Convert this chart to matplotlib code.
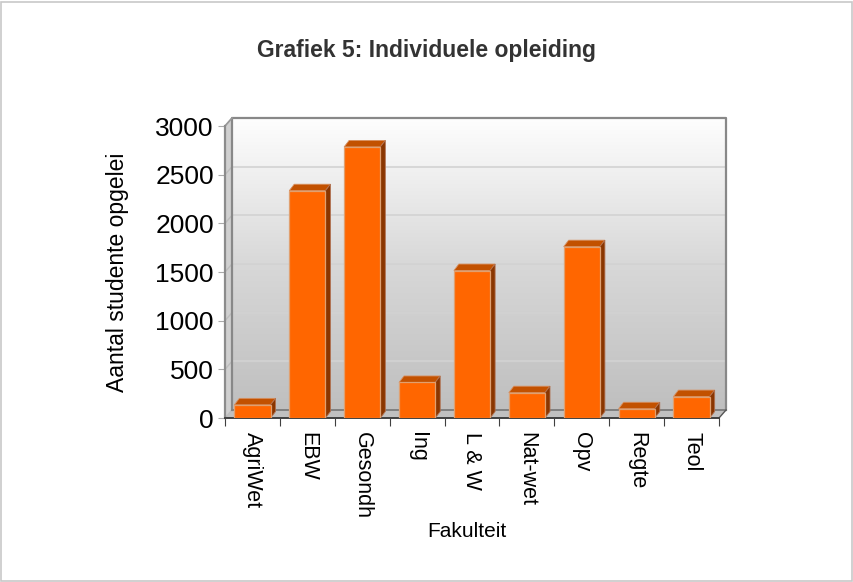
import numpy as np
import matplotlib
matplotlib.use("Agg")
import matplotlib.pyplot as plt
from matplotlib.patches import Polygon, Rectangle
from matplotlib.colors import LinearSegmentedColormap

categories = ["AgriWet", "EBW", "Gesondh", "Ing", "L & W", "Nat-wet", "Opv", "Regte", "Teol"]
values = [135, 2335, 2785, 365, 1515, 260, 1760, 95, 220]
yticks = [0, 500, 1000, 1500, 2000, 2500, 3000]

plt.rcParams['font.family'] = ['Liberation Sans', 'DejaVu Sans']

W, H = 854, 582
fig = plt.figure(figsize=(W / 100, H / 100), dpi=100)
fig.patch.set_facecolor('white')

# outer border
fig.add_artist(Rectangle((1 / W, 1 / H), (W - 3) / W, (H - 3) / H, transform=fig.transFigure,
                         fill=False, edgecolor='#c8c8c8', linewidth=1.2))

L, R, T, B = 225, 719, 126, 418
ax = fig.add_axes([L / W, (H - B) / H, (R - L) / W, (B - T) / H])
n = len(categories)
x0, x1 = -0.5, n - 0.5
ax.set_xlim(x0, x1)
ax.set_ylim(0, 3000)
ax.patch.set_alpha(0)

pxx = (x1 - x0) / (R - L)
pxy = 3000 / (B - T)
wdx, wdy = 7 * pxx, 8 * pxy   # wall depth
bdx, bdy = 5 * pxx, 6.5 * pxy  # bar depth

# back wall gradient
grad = np.linspace(0, 1, 256).reshape(-1, 1)
cmap = LinearSegmentedColormap.from_list('wall', ['#bfbfbf', '#d8d8d8', '#fefefe'])
ax.imshow(grad, aspect='auto', cmap=cmap, origin='lower',
          extent=[x0 + wdx, x1 + wdx, wdy, 3000 + wdy], clip_on=False, zorder=0)
# left wall
ax.add_patch(Polygon([(x0, 0), (x0, 3000), (x0 + wdx, 3000 + wdy), (x0 + wdx, wdy)],
                     closed=True, facecolor='#d0d0d0', edgecolor='none', clip_on=False, zorder=0.5))
# floor
ax.add_patch(Polygon([(x0, 0), (x1, 0), (x1 + wdx, wdy), (x0 + wdx, wdy)],
                     closed=True, facecolor='#c0c0c0', edgecolor='none', clip_on=False, zorder=0.5))

# gridlines on wall
for v in yticks[1:]:
    ax.plot([x0 + wdx, x1 + wdx], [v + wdy, v + wdy], color='#d2d2d2', lw=1.2, clip_on=False, zorder=0.6)
for v in yticks:
    ax.plot([x0, x0 + wdx], [v, v + wdy], color='#bdbdbd', lw=1.0, clip_on=False, zorder=0.6)
# wall outline
ax.plot([x0 + wdx, x0 + wdx, x1 + wdx, x1 + wdx], [wdy, 3000 + wdy, 3000 + wdy, wdy],
        color='#888888', lw=1.6, clip_on=False, zorder=0.7)
ax.plot([x0 + wdx, x1 + wdx], [wdy, wdy], color='#808080', lw=1.4, clip_on=False, zorder=0.7)
ax.plot([x0, x0 + wdx], [3000, 3000 + wdy], color='#999999', lw=1.2, clip_on=False, zorder=0.7)
ax.plot([x1, x1 + wdx], [0, wdy], color='#555555', lw=1.0, clip_on=False, zorder=0.7)

# bars
bw = 0.66
ax.bar(range(n), values, width=bw, color='#ff6600', edgecolor='#e0a070', linewidth=0.9, zorder=3)
for i, v in enumerate(values):
    xl, xr = i - bw / 2, i + bw / 2
    ax.add_patch(Polygon([(xl, v), (xr, v), (xr + bdx, v + bdy), (xl + bdx, v + bdy)], closed=True,
                         facecolor='#c25100', edgecolor='#d89060', lw=0.6, zorder=2.9))
    ax.add_patch(Polygon([(xr, 0), (xr, v), (xr + bdx, v + bdy), (xr + bdx, bdy)], closed=True,
                         facecolor='#8a3600', edgecolor='#b07050', lw=0.6, zorder=2.9))

# axes / spines
for s in ['top', 'right']:
    ax.spines[s].set_visible(False)
ax.spines['left'].set_color('#8c8c8c')
ax.spines['left'].set_linewidth(1.6)
ax.spines['bottom'].set_color('#404040')
ax.spines['bottom'].set_linewidth(1.4)

ax.set_yticks(yticks)
ax.set_yticklabels([str(v) for v in yticks], fontsize=19)
ax.tick_params(axis='y', length=5, color='#aaaaaa', pad=3)

ax.set_xticks(np.arange(x0, x1 + 0.01, 1.0))
ax.set_xticklabels([])
ax.tick_params(axis='x', which='major', length=6, color='#404040')
ax.set_xticks(range(n), minor=True)
ax.set_xticklabels(categories, minor=True, rotation=270, fontsize=15.5, va='top', ha='center')
ax.tick_params(axis='x', which='minor', length=0, pad=10)

ax.set_ylabel('Aantal studente opgelei', fontsize=16.5)
ax.yaxis.set_label_coords(-0.195, 0.5)
ax.set_xlabel('Fakulteit', fontsize=15)
ax.xaxis.set_label_coords(0.49, -0.39)
ax.xaxis.label.set_va('center')

fig.text(0.5, 1 - 50 / H, 'Grafiek 5: Individuele opleiding', ha='center', va='center',
         fontsize=16.5, fontweight='bold', color='#333333')

fig.savefig('out.png', dpi=100)
